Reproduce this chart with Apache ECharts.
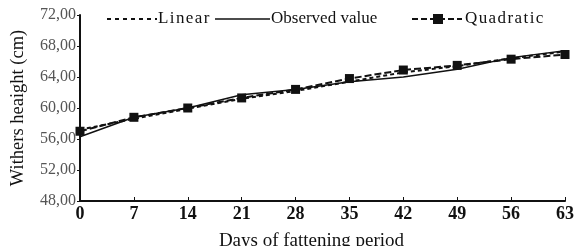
<!DOCTYPE html>
<html><head><meta charset="utf-8">
<script src="https://cdn.jsdelivr.net/npm/echarts@6/dist/echarts.min.js"></script>
<style>html,body{margin:0;padding:0;background:#fff}#c{width:576px;height:246px}</style>
</head><body><div id="c"></div>
<script>
const days = ['0','7','14','21','28','35','42','49','56','63'];
const linear = [57.2, 58.6, 59.9, 61.2, 62.2, 63.4, 64.6, 65.4, 66.4, 67.3];
const observed = [56.3, 58.8, 60.0, 61.7, 62.4, 63.4, 64.0, 65.0, 66.5, 67.4];
const quadratic = [57.0, 58.8, 60.0, 61.3, 62.4, 63.8, 64.9, 65.5, 66.3, 66.9];
const yTicks = {min: 48, max: 72, interval: 4};
const legendNames = ['Linear', 'Observed value', 'Quadratic'];

const font = 'Liberation Serif';
const ink = '#111';
const sp = s => s.split('').join('\u200A');
const ly = 19;
const txt = (x, s) => ({type: 'text', x: x, y: ly, style: {text: s, fontFamily: font, fontSize: 17, fill: ink, textVerticalAlign: 'middle', verticalAlign: 'middle'}});
const legendGraphic = [
  {type: 'line', shape: {x1: 107, y1: ly, x2: 157, y2: ly}, style: {stroke: ink, lineWidth: 2, lineDash: [4, 4]}},
  txt(158, sp(legendNames[0])),
  {type: 'line', shape: {x1: 215, y1: ly, x2: 270, y2: ly}, style: {stroke: ink, lineWidth: 1.5}},
  txt(271, legendNames[1]),
  {type: 'line', shape: {x1: 412, y1: ly, x2: 462, y2: ly}, style: {stroke: ink, lineWidth: 2, lineDash: [6, 3]}},
  {type: 'rect', shape: {x: 433, y: ly - 5, width: 10, height: 10}, style: {fill: ink}},
  txt(465, sp(legendNames[2]))
];

const chart = echarts.init(document.getElementById('c'));
chart.setOption({
  animation: false,
  textStyle: {fontFamily: font},
  grid: {left: 80, right: 11, top: 15, bottom: 45, outerBoundsMode: 'none', containLabel: false},
  graphic: legendGraphic,
  xAxis: {
    type: 'category', data: days, boundaryGap: false,
    name: 'Days of fattening period', nameLocation: 'middle', nameGap: 31,
    nameTextStyle: {fontFamily: font, fontSize: 19, color: ink, padding: [0, 22, 0, 0]},
    axisLine: {lineStyle: {color: ink, width: 2}},
    axisTick: {inside: true, length: 4, lineStyle: {color: ink, width: 1}},
    axisLabel: {fontFamily: font, fontSize: 18, fontWeight: 'bold', color: ink, margin: 4},
    splitLine: {show: false}
  },
  yAxis: {
    type: 'value', min: yTicks.min, max: yTicks.max, interval: yTicks.interval,
    name: 'Withers heaight (cm)', nameLocation: 'middle', nameGap: 52, nameRotate: 90,
    nameTextStyle: {fontFamily: font, fontSize: 18.5, color: ink, padding: [0, 0, 0, 0]},
    axisLine: {show: true, lineStyle: {color: ink, width: 2}},
    axisTick: {show: true, length: 3, lineStyle: {color: ink}},
    axisLabel: {fontFamily: font, fontSize: 16, color: '#555', margin: 4,
      formatter: v => v.toFixed(2).replace('.', ',')},
    splitLine: {show: false}
  },
  series: [
    {name: 'Linear', type: 'line', data: linear, symbol: 'none',
     lineStyle: {color: ink, width: 2, type: [4, 3]}},
    {name: 'Observed value', type: 'line', data: observed, symbol: 'none',
     lineStyle: {color: ink, width: 1.5}},
    {name: 'Quadratic', type: 'line', data: quadratic, symbol: 'rect', symbolSize: 9,
     lineStyle: {color: ink, width: 2, type: [7, 3]}, itemStyle: {color: ink}}
  ]
});
</script></body></html>
